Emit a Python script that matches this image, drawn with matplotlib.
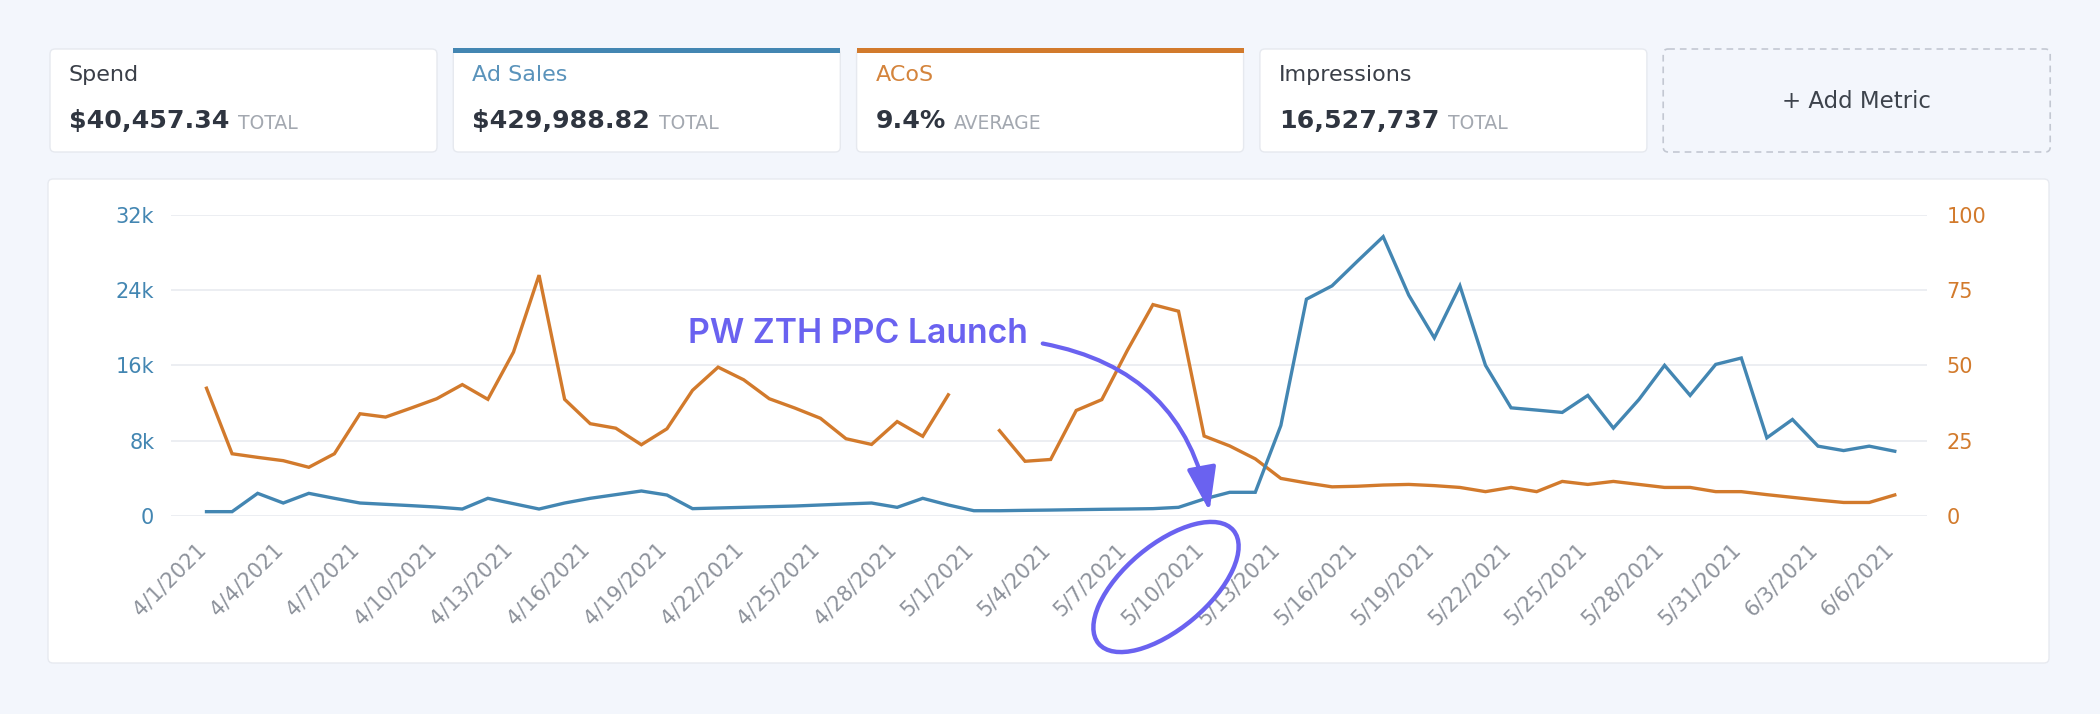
import numpy as np
import pandas as pd
import matplotlib
matplotlib.use("Agg")
import matplotlib.pyplot as plt
import matplotlib.transforms as mtransforms
from matplotlib.patches import FancyBboxPatch, Rectangle, Ellipse, FancyArrowPatch

## data
dates = pd.date_range("2021-04-01", "2021-06-06", freq="D")

ad_sales = [430, 430, 2380, 1350, 2380, 1850, 1350, 1210, 1070, 920,
            710, 1850, 1280, 710, 1350, 1850, 2240, 2630, 2200, 750,
            820, 890, 960, 1030, 1140, 1250, 1350, 890, 1850, 1140,
            530, 530, 570, 600, 640, 680, 710, 750, 890, 1780,
            2490, 2490, 9600, 23040, 24460, 27100, 29690, 23470, 18920, 24460,
            16000, 11480, 11240, 10990, 12800, 9320, 12370, 16000, 12800, 16100,
            16780, 8290, 10240, 7400, 6930, 7400, 6860]

acos = [42.4, 20.6, 19.4, 18.3, 16.1, 20.6, 33.9, 32.8, 35.8, 38.9,
        43.6, 38.7, 54.4, 80.0, 38.7, 30.6, 29.1, 23.6, 28.9, 41.7,
        49.4, 45.2, 38.9, 35.8, 32.4, 25.6, 23.7, 31.3, 26.4, 40.2,
        np.nan, 28.3, 18.1, 18.7, 35.0, 38.6, 55.0, 70.2, 68.0, 26.5,
        23.2, 18.9, 12.4, 10.9, 9.6, 9.8, 10.2, 10.4, 10.0, 9.4,
        8.0, 9.4, 8.0, 11.4, 10.4, 11.4, 10.4, 9.4, 9.4, 8.0,
        8.0, 7.0, 6.1, 5.2, 4.4, 4.4, 6.9]

card_titles = ["Spend", "Ad Sales", "ACoS", "Impressions"]
card_values = ["$40,457.34", "$429,988.82", "9.4%", "16,527,737"]
card_suffix = ["TOTAL", "TOTAL", "AVERAGE", "TOTAL"]

left_ticks = [0, 8000, 16000, 24000, 32000]
left_labels = ["0", "8k", "16k", "24k", "32k"]
right_ticks = [0, 25, 50, 75, 100]

## colors
blue = "#4386b2"
orange = "#d27a2c"
purple = "#6a62f0"
dark = "#2f3540"
bgcol = "#f3f6fc"

W, H = 2100, 714
fig = plt.figure(figsize=(21, 7.14), dpi=100, facecolor=bgcol)

# pixel-space layer for cards
bg = fig.add_axes([0, 0, 1, 1])
bg.set_zorder(0)
bg.set_xlim(0, W)
bg.set_ylim(H, 0)
bg.axis("off")

def card(x, y, w, h, **kw):
    bg.add_patch(FancyBboxPatch((x, y), w, h, boxstyle="round,pad=0,rounding_size=5", **kw))

title_colors = ["#3a3f48", "#5a93bb", "#d4843c", "#3a3f48"]
bar_colors = [None, blue, orange, None]

card_w, card_h, card_top = 387, 103, 49
for i in range(5):
    x0 = 50 + i * 403.3
    if i < 4:
        card(x0, card_top, card_w, card_h, fc="white", ec="#e6e9ef", lw=1)
        if bar_colors[i]:
            bg.add_patch(Rectangle((x0, card_top - 1), card_w, 5, fc=bar_colors[i], ec="none"))
        bg.text(x0 + 19, 75, card_titles[i], fontsize=16, color=title_colors[i], va="center")
        v = bg.text(x0 + 19, 128, card_values[i], fontsize=18.2, weight="bold", color=dark, va="baseline")
        bg.annotate(card_suffix[i], xy=(1, 0), xycoords=v, xytext=(6, 0), textcoords="offset points",
                    fontsize=13.5, color="#a3a8b0", va="bottom")
    else:
        card(x0, card_top, card_w, card_h, fc="none", ec="#c3c8d2", lw=1.2, ls=(0, (4, 3)))
        bg.text(x0 + card_w / 2, 101, "+ Add Metric", fontsize=16.5, color="#3d434c", ha="center", va="center")

# chart card
card(48, 179, 2001, 484, fc="white", ec="#e7eaf0", lw=1)

## chart
x = np.arange(len(dates))
ax = fig.add_axes([171 / W, 1 - 515.7 / H, (1927 - 171) / W, (515.7 - 215) / H])
ax2 = ax.twinx()
ax2.set_zorder(2)
ax.set_zorder(3)
ax.patch.set_visible(False)
ax2.patch.set_visible(False)

ax.plot(x, ad_sales, color=blue, lw=2.4, solid_joinstyle="miter")
ax2.plot(x, acos, color=orange, lw=2.4, solid_joinstyle="miter")

ax.set_xlim(-1.388, 67.26)
ax.set_ylim(0, 32000)
ax2.set_ylim(0, 100)

for a in (ax, ax2):
    for s in a.spines.values():
        s.set_visible(False)

ax2.grid(axis="y", color="#eceef2", lw=1.4)
ax.grid(False)

ax.set_yticks(left_ticks, left_labels)
ax.tick_params(axis="y", length=0, pad=12, labelsize=15, labelcolor=blue)
ax2.set_yticks(right_ticks)
ax2.tick_params(axis="y", length=0, pad=14, labelsize=15, labelcolor=orange)

ax.set_xticks(x[::3])
ax.set_xticklabels([f"{d.month}/{d.day}/{d.year}" for d in dates[::3]], rotation=45,
                   ha="right", rotation_mode="anchor", color="#8d929b", fontsize=15)
ax.tick_params(axis="x", length=0, pad=17)
shift = mtransforms.ScaledTranslation(-0.11, 0, fig.dpi_scale_trans)
for lab in ax.get_xticklabels():
    lab.set_transform(lab.get_transform() + shift)

## annotation layer
ov = fig.add_axes([0, 0, 1, 1])
ov.set_zorder(5)
ov.set_xlim(0, W)
ov.set_ylim(H, 0)
ov.axis("off")

ov.text(688, 334, "PW ZTH PPC Launch", fontsize=24.3, family=["Inter", "DejaVu Sans"], weight="semibold",
        color=purple, va="center", ha="left")
ov.add_patch(FancyArrowPatch((1040, 343), (1210, 514), connectionstyle="arc3,rad=-0.35",
                             arrowstyle="-|>,head_length=0.9,head_width=0.3", mutation_scale=30,
                             color=purple, lw=3))
ov.add_patch(Ellipse((1166, 587), width=176, height=84, angle=-40, fill=False, ec=purple, lw=3.2))

fig.savefig("out.png", dpi=100, facecolor=fig.get_facecolor())
